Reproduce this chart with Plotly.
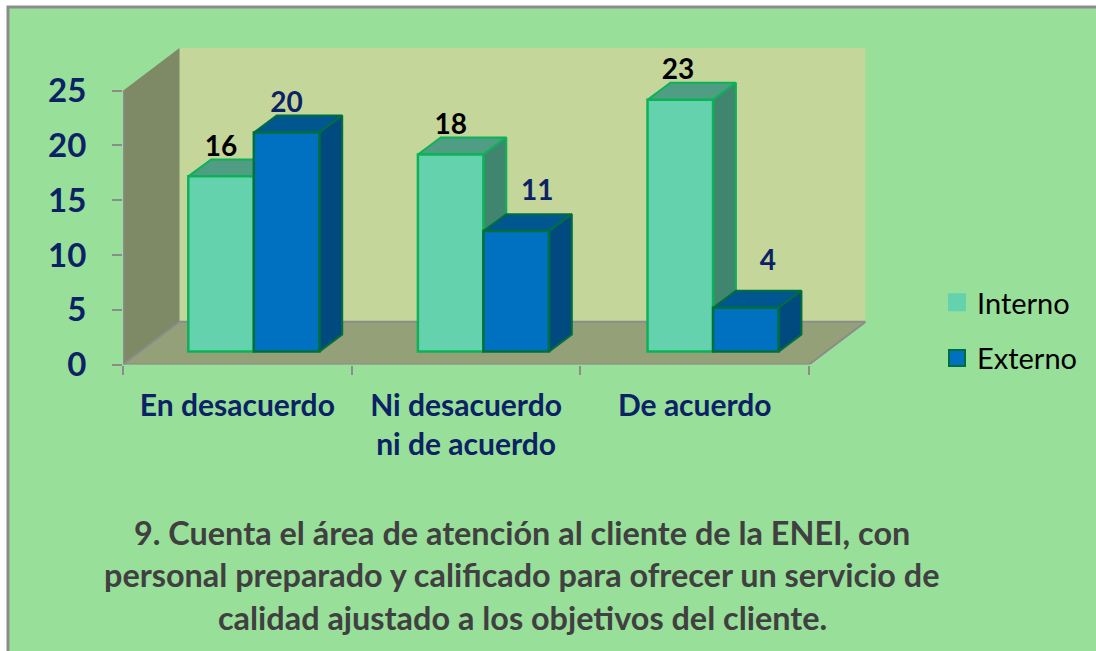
"""Barras 3D simuladas: pregunta 9, cliente interno y externo."""

import plotly.graph_objects as go

W, H = 1096, 651
FONT = "Lato"

CATEGORIES = ["En desacuerdo", "Ni desacuerdo<br>ni de acuerdo", "De acuerdo"]
INTERNO = [16, 18, 23]
EXTERNO = [20, 11, 4]
Y_TICKS = [0, 5, 10, 15, 20, 25]
TITLE_LINES = [
    "9. Cuenta el área de atención al cliente de la ENEI, con",
    "personal preparado y calificado para ofrecer un servicio de",
    "calidad ajustado a los objetivos del cliente.",
]

# profundidad de la caja y de las barras, en unidades de los ejes
BOX_DX, BOX_DY = 0.247, 3.9
BAR_DX, BAR_DY = 0.1, 1.55
BAR_BASE = 1.18
BAR_W = 0.2865
SHIFT = 0.072
STEP = 1.004
Y_MAX = Y_TICKS[-1]
N = len(CATEGORIES)

GREEN_BG = "#98DF9A"
LINE = "#8C8C8C"
NAVY = "#0B2265"
TITLE_INK = "#404040"

# desplazamiento de cada etiqueta respecto a la cara frontal
NUDGE_IN = [(0, 2.49), (0, 2.49), (-0.01, 2.49)]
NUDGE_EX = [(0, 2.49), (0.092, 3.49), (0.096, 4.13)]

fig = go.Figure()


def face(xs, ys, fill, line=None, z=0, width=2):
    fig.add_trace(go.Scatter(
        x=xs, y=ys, mode="lines", fill="toself", fillcolor=fill,
        line=dict(color=line or fill, width=width),
        hoverinfo="skip", showlegend=False, zorder=z, cliponaxis=False,
    ))


# paredes y suelo
face([BOX_DX, N + BOX_DX, N + BOX_DX, BOX_DX, BOX_DX],
     [BOX_DY, BOX_DY, BOX_DY + Y_MAX, BOX_DY + Y_MAX, BOX_DY], "#C5D69A", z=0, width=0)
face([0, BOX_DX, BOX_DX, 0, 0], [0, BOX_DY, BOX_DY + Y_MAX, Y_MAX, 0], "#7E8965", z=0, width=0)
face([0, N, N + BOX_DX, BOX_DX, 0], [0, 0, BOX_DY, BOX_DY, 0], "#94A077", line=LINE, z=0)
fig.add_trace(go.Scatter(
    x=[0, 0], y=[0, Y_MAX], mode="lines", line=dict(color=LINE, width=3),
    hoverinfo="skip", showlegend=False, zorder=0, cliponaxis=False,
))


def series(name, values, front, top, right, edge, z, left_of_split):
    xs = [i * STEP + 0.5 + SHIFT + (-BAR_W / 2 if left_of_split else BAR_W / 2) for i in range(N)]
    for x, v in zip(xs, values):
        x0, x1 = x - BAR_W / 2, x + BAR_W / 2
        y1 = BAR_BASE + v
        face([x0, x1, x1 + BAR_DX, x0 + BAR_DX, x0],
             [y1, y1, y1 + BAR_DY, y1 + BAR_DY, y1], top, line=edge, z=z)
        face([x1, x1 + BAR_DX, x1 + BAR_DX, x1, x1],
             [BAR_BASE, BAR_BASE + BAR_DY, y1 + BAR_DY, y1, BAR_BASE], right, line=edge, z=z)
    fig.add_trace(go.Bar(
        x=xs, y=values, base=BAR_BASE, width=BAR_W, name=name,
        marker=dict(color=front, line=dict(color=edge, width=2.5)),
        customdata=values, hovertemplate="%{customdata}<extra>" + name + "</extra>",
        showlegend=False, zorder=z + 1,
    ))
    return xs


xs_in = series("Interno", INTERNO, "#65D2AE", "#4F9E83", "#40866F", "#0DB258", 1, True)
xs_ex = series("Externo", EXTERNO, "#0070C0", "#00568F", "#004A80", "#006F3C", 3, False)

# etiquetas de valor
for xs, values, nudge, color in [(xs_in, INTERNO, NUDGE_IN, "#000000"),
                                 (xs_ex, EXTERNO, NUDGE_EX, NAVY)]:
    fig.add_trace(go.Scatter(
        x=[x + n[0] for x, n in zip(xs, nudge)],
        y=[BAR_BASE + v + n[1] for v, n in zip(values, nudge)],
        text=[str(v) for v in values], mode="text", textposition="middle center",
        textfont=dict(family=FONT, size=28, color=color, weight="bold"),
        hoverinfo="skip", showlegend=False, zorder=6, cliponaxis=False,
    ))

# leyenda
for name, color, edge in [("Interno", "#65D2AE", "#65D2AE"), ("Externo", "#0070C0", "#006F3C")]:
    fig.add_trace(go.Scatter(
        x=[None], y=[None], mode="markers", name=name, legendgroup=name,
        marker=dict(symbol="square", size=16, color=color, line=dict(color=edge, width=2)),
    ))

# marco: sin borde a la derecha ni abajo porque se sale de la página
fig.add_shape(type="rect", xref="paper", yref="paper", layer="below",
              x0=8 / W, x1=1.01, y0=-0.01, y1=1 - 7 / H,
              fillcolor=GREEN_BG, line=dict(color=LINE, width=3))

for i, line in enumerate(TITLE_LINES):
    fig.add_annotation(
        xref="paper", yref="paper", x=522 / W, y=1 - (532 + i * 42.5) / H,
        text=line, showarrow=False, xanchor="center", yanchor="middle",
        font=dict(family=FONT, size=32.4, color=TITLE_INK, weight="bold"),
    )

fig.update_layout(
    width=W, height=H, autosize=False,
    margin=dict(l=0, r=0, t=0, b=0, autoexpand=False),
    paper_bgcolor="white", plot_bgcolor="rgba(0,0,0,0)",
    barmode="overlay", font=dict(family=FONT),
    legend=dict(x=937 / W, xanchor="left", y=1 - 277 / H, yanchor="top",
                bgcolor="rgba(0,0,0,0)", tracegroupgap=15, itemwidth=30,
                font=dict(family=FONT, size=29, color="#000000")),
    xaxis=dict(domain=[123 / W, (123 + (N + BOX_DX) * 228.7) / W], range=[0, N + BOX_DX],
               tickmode="array", tickvals=[i + 0.5 for i in range(N)], ticktext=CATEGORIES,
               ticks="", ticklabelstandoff=20, showgrid=False, zeroline=False, showline=False,
               minor=dict(tickmode="array", tickvals=list(range(N + 1)), ticks="outside",
                          ticklen=9, tickwidth=2, tickcolor=LINE, showgrid=False),
               tickfont=dict(family=FONT, size=30, color=NAVY, weight="bold")),
    yaxis=dict(domain=[1 - 364.5 / H, 1 - 48 / H], range=[0, Y_MAX + BOX_DY],
               tickmode="array", tickvals=Y_TICKS, ticks="outside", ticklen=10, tickwidth=2,
               tickcolor=LINE, showgrid=False, zeroline=False, showline=False,
               ticklabelstandoff=19,
               tickfont=dict(family=FONT, size=33, color=NAVY, weight="bold")),
)

fig.write_html("out.html", config={"displayModeBar": False},
               post_script="document.body.style.margin='0';")
